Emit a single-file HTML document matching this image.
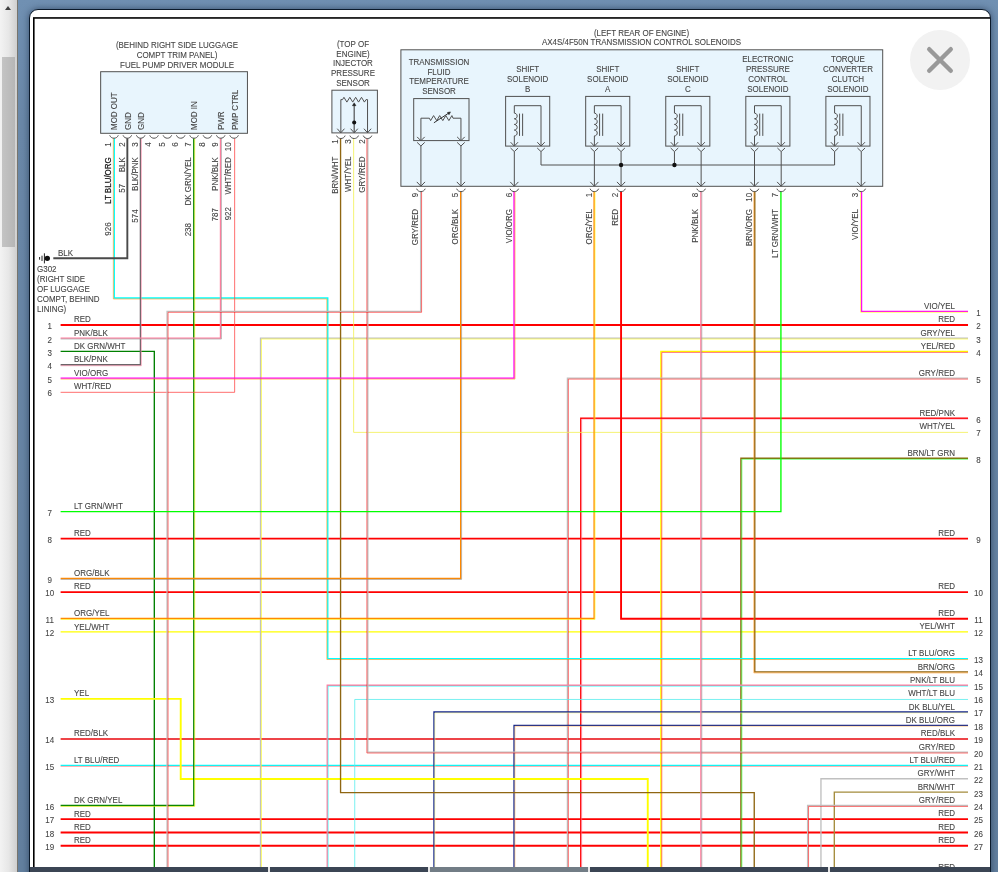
<!DOCTYPE html>
<html lang="en">
<head>
<meta charset="utf-8">
<title>Wiring Diagram</title>
<style>
html,body{margin:0;padding:0}
body{width:998px;height:872px;overflow:hidden;position:relative;
 background:linear-gradient(180deg,#7090b2 0,#6a88a8 120px,#63809f 100%);
 font-family:"Liberation Sans",Arial,sans-serif}
#sb{position:absolute;left:0;top:0;width:17px;height:872px;
 background:linear-gradient(90deg,#f3f3f3 0,#e7e7e7 50%,#cfcfcf 100%);border-right:1px solid #77756e}
#sb .up{position:absolute;left:5.1px;top:5.7px;width:0;height:0;border-left:3.5px solid transparent;border-right:3.5px solid transparent;border-bottom:4.2px solid #404040}
#sb .th{position:absolute;left:2px;top:57px;width:13px;height:190px;background:linear-gradient(90deg,#c4c4c4,#b6b6b6)}
#panel{position:absolute;left:29px;top:9px;width:960px;height:900px;background:#fff;border:1px solid #0b1a2b;border-radius:9px;
 box-shadow:0 0 7px 0 rgba(20,35,60,.6)}
#dia{position:absolute;left:0;top:0}
#close{position:absolute;left:910px;top:30px;width:60px;height:60px;border-radius:50%;background:#f2f2f2}
#bar{position:absolute;left:30px;top:867px;width:960px;height:5px;background:#e8e8e8}
#bar i{position:absolute;top:0;height:5px;background:#3b4554}
</style>
</head>
<body>
<div id="sb"><div class="up"></div><div class="th"></div></div>
<div id="panel"></div>
<svg id="dia" width="998" height="872" viewBox="0 0 998 872">
<defs><clipPath id="cp"><rect x="30" y="10" width="960" height="857"/></clipPath></defs>
<g clip-path="url(#cp)">
<rect x="33.8" y="17.95" width="1000" height="900" fill="none" stroke="#000" stroke-width="1.6"/>
<g fill="none" stroke-linecap="butt" stroke-linejoin="miter">
<path d="M60.62 325 L968.02 325" stroke="#ff0000" stroke-width="1.9"/>
<path d="M60.62 538.66 L968.02 538.66" stroke="#ff0000" stroke-width="1.9"/>
<path d="M60.62 592.08 L968.02 592.08" stroke="#ff0000" stroke-width="1.9"/>
<path d="M968.02 631.87 L60.62 631.87" stroke="#ffff00" stroke-width="1.35"/>
<path d="M968.02 738.97 L60.62 738.97" stroke="#ee4448" stroke-width="1.9"/>
<path d="M968.02 765.41 L60.62 765.41" stroke="#00ffff" stroke-width="1.35"/>
<path d="M968.02 766.36 L60.62 766.36" stroke="#ff5a5a" stroke-width="0.55"/>
<path d="M60.62 819.1 L968.02 819.1" stroke="#ff0000" stroke-width="1.9"/>
<path d="M60.62 832.45 L968.02 832.45" stroke="#ff0000" stroke-width="1.9"/>
<path d="M60.62 845.81 L968.02 845.81" stroke="#ff0000" stroke-width="1.9"/>
<path d="M60.62 872.51 L968.02 872.51" stroke="#ff0000" stroke-width="1.9"/>
<path d="M968.02 338.08 L260.51 338.08 L260.51 880" stroke="#c0c0c0" stroke-width="1.35"/>
<path d="M968.02 339.03 L261.46 339.03 L261.46 880" stroke="#ffff00" stroke-width="0.55"/>
<path d="M968.02 351.43 L660.83 351.43 L660.83 880" stroke="#ffff00" stroke-width="1.35"/>
<path d="M968.02 352.38 L661.78 352.38 L661.78 880" stroke="#ff0000" stroke-width="0.55"/>
<path d="M968.02 378.14 L567.42 378.14 L567.42 880" stroke="#c0c0c0" stroke-width="1.35"/>
<path d="M968.02 379.09 L568.37 379.09 L568.37 880" stroke="#ff0000" stroke-width="0.55"/>
<path d="M968.02 418.2 L580.76 418.2 L580.76 880" stroke="#ff0000" stroke-width="1.35"/>
<path d="M968.02 419.15 L581.71 419.15 L581.71 880" stroke="#ff7f9f" stroke-width="0.55"/>
<path d="M968.02 458.26 L740.89 458.26 L740.89 880" stroke="#8f6612" stroke-width="1.35"/>
<path d="M968.02 459.21 L741.84 459.21 L741.84 880" stroke="#00ff00" stroke-width="0.55"/>
<path d="M968.02 685.28 L327.23 685.28 L327.23 880" stroke="#ff7f9f" stroke-width="1.35"/>
<path d="M968.02 686.23 L328.18 686.23 L328.18 880" stroke="#00ffff" stroke-width="0.55"/>
<path d="M968.02 699.46 L354.74 699.46 L354.74 880" stroke="#58eeee" stroke-width="0.8"/>
<path d="M968.02 711.99 L433.98 711.99 L433.98 880" stroke="#14268a" stroke-width="1.35"/>
<path d="M968.02 712.94 L434.93 712.94 L434.93 880" stroke="#ffff8c" stroke-width="0.55"/>
<path d="M968.02 725.35 L514.04 725.35 L514.04 880" stroke="#14268a" stroke-width="1.35"/>
<path d="M968.02 726.29 L514.99 726.29 L514.99 880" stroke="#ffb860" stroke-width="0.55"/>
<path d="M968.02 778.76 L820.96 778.76 L820.96 880" stroke="#c0c0c0" stroke-width="1.35"/>
<path d="M968.02 792.12 L834.3 792.12 L834.3 880" stroke="#a48c3c" stroke-width="1.35"/>
<path d="M968.02 805.47 L807.61 805.47 L807.61 880" stroke="#c0c0c0" stroke-width="1.35"/>
<path d="M968.02 806.42 L808.56 806.42 L808.56 880" stroke="#ff0000" stroke-width="0.55"/>
<path d="M154.31 880 L154.31 351.43 L60.62 351.43" stroke="#008000" stroke-width="1.35"/>
<path d="M60.62 698.91 L180.72 698.91 L180.72 779.04 L647.76 779.04 L647.76 880" stroke="#ffff00" stroke-width="1.9"/>
<path d="M968.02 658.57 L327.78 658.57 L327.78 298.02 L114.28 298.02 L114.28 138.3" stroke="#00ffff" stroke-width="1.35"/>
<path d="M968.02 659.52 L326.83 659.52 L326.83 298.97 L113.33 298.97 L113.33 138.3" stroke="#ff8800" stroke-width="0.55"/>
<path d="M127.34 138.3 L127.34 258.23 L53.3 258.23" stroke="#4a4a4a" stroke-width="1.9"/>
<path d="M140.41 138.3 L140.41 364.79 L60.62 364.79" stroke="#6c6468" stroke-width="1.35"/>
<path d="M141.36 138.3 L141.36 365.74 L60.62 365.74" stroke="#ff7f9f" stroke-width="0.55"/>
<path d="M193.79 138.3 L193.79 805.47 L60.62 805.47" stroke="#008000" stroke-width="1.35"/>
<path d="M194.74 138.3 L194.74 806.42 L60.62 806.42" stroke="#ffff00" stroke-width="0.55"/>
<path d="M220.48 138.3 L220.48 338.08 L60.62 338.08" stroke="#ff7f9f" stroke-width="1.35"/>
<path d="M221.43 138.3 L221.43 339.03 L60.62 339.03" stroke="#8c8c8c" stroke-width="0.55"/>
<path d="M234.65 138.3 L234.65 392.32 L60.62 392.32" stroke="#ff4a4a" stroke-width="0.8"/>
<path d="M340.57 138.3 L340.57 792.66 L754.24 792.66 L754.24 880" stroke="#8f6612" stroke-width="1.35"/>
<path d="M968.02 432.38 L353.64 432.38 L353.64 138.3" stroke="#f2f050" stroke-width="0.8"/>
<path d="M968.02 752.05 L367.81 752.05 L367.81 138.3" stroke="#c0c0c0" stroke-width="1.35"/>
<path d="M968.02 753 L366.86 753 L366.86 138.3" stroke="#ff0000" stroke-width="0.55"/>
<path d="M420.64 191.3 L420.64 311.37 L167.1 311.37 L167.1 880" stroke="#c0c0c0" stroke-width="1.35"/>
<path d="M421.59 191.3 L421.59 312.32 L168.05 312.32 L168.05 880" stroke="#ff0000" stroke-width="0.55"/>
<path d="M460.67 191.3 L460.67 578.45 L60.62 578.45" stroke="#ff8800" stroke-width="1.35"/>
<path d="M461.62 191.3 L461.62 579.4 L60.62 579.4" stroke="#8c8c8c" stroke-width="0.55"/>
<path d="M514.04 191.3 L514.04 378.14 L60.62 378.14" stroke="#ff00ff" stroke-width="1.35"/>
<path d="M514.99 191.3 L514.99 379.09 L60.62 379.09" stroke="#ff8800" stroke-width="0.55"/>
<path d="M594.11 191.3 L594.11 618.51 L60.62 618.51" stroke="#ff8800" stroke-width="1.35"/>
<path d="M595.06 191.3 L595.06 619.46 L60.62 619.46" stroke="#ffff00" stroke-width="0.55"/>
<path d="M621.07 191.3 L621.07 618.79 L968.02 618.79" stroke="#ff0000" stroke-width="1.9"/>
<path d="M700.86 191.3 L700.86 880" stroke="#ff7f9f" stroke-width="1.35"/>
<path d="M701.81 191.3 L701.81 880" stroke="#8c8c8c" stroke-width="0.55"/>
<path d="M968.02 671.93 L754.79 671.93 L754.79 191.3" stroke="#8f6612" stroke-width="1.35"/>
<path d="M968.02 672.88 L753.84 672.88 L753.84 191.3" stroke="#ff8800" stroke-width="0.55"/>
<path d="M780.92 191.3 L780.92 511.68 L60.62 511.68" stroke="#00ff00" stroke-width="1.35"/>
<path d="M968.02 311.37 L861.54 311.37 L861.54 191.3" stroke="#ff00ff" stroke-width="1.35"/>
<path d="M968.02 312.32 L860.59 312.32 L860.59 191.3" stroke="#ffff00" stroke-width="0.55"/>
</g>
<g fill="none" stroke="#505050" stroke-width="1">
<rect x="100.66" y="71.7" width="146.78" height="61.6" fill="#e8f5fd"/>
<path d="M109.7 135.3 C111.2 139.2 116.8 139.2 118.3 135.3"/>
<path d="M123.04 135.3 C124.54 139.2 130.14 139.2 131.64 135.3"/>
<path d="M136.39 135.3 C137.89 139.2 143.49 139.2 144.99 135.3"/>
<path d="M149.73 135.3 C151.23 139.2 156.83 139.2 158.33 135.3"/>
<path d="M163.08 135.3 C164.58 139.2 170.18 139.2 171.68 135.3"/>
<path d="M176.42 135.3 C177.92 139.2 183.52 139.2 185.02 135.3"/>
<path d="M189.76 135.3 C191.26 139.2 196.86 139.2 198.36 135.3"/>
<path d="M203.11 135.3 C204.61 139.2 210.21 139.2 211.71 135.3"/>
<path d="M216.45 135.3 C217.95 139.2 223.55 139.2 225.05 135.3"/>
<path d="M229.8 135.3 C231.3 139.2 236.9 139.2 238.4 135.3"/>
<rect x="331.9" y="90.2" width="45.5" height="42.7" fill="#e8f5fd"/>
<path d="M336.55 135.6 C338.05 139.5 343.65 139.5 345.15 135.6"/>
<path d="M337.25 128.7 L340.85 132.8 L344.45 128.7"/>
<path d="M349.89 135.6 C351.39 139.5 356.99 139.5 358.49 135.6"/>
<path d="M350.59 128.7 L354.19 132.8 L357.79 128.7"/>
<path d="M363.24 135.6 C364.74 139.5 370.34 139.5 371.84 135.6"/>
<path d="M363.94 128.7 L367.54 132.8 L371.14 128.7"/>
<path d="M340.85 132.5 L340.85 99.6 L342.55 99.6 L343.95 97.3 L346.87 102.1 L349.8 97.3 L352.72 102.1 L355.65 97.3 L358.57 102.1 L361.5 97.3 L364.42 102.1 L366.04 99.6 L367.54 99.6 L367.54 132.5"/>
<path d="M354.19 104 V132.5" stroke-width="1.2"/>
<path d="M352.39 105.7 L354.19 102.8 L355.99 105.7 Z" fill="#222" stroke="#222" stroke-width=".5"/>
<circle cx="354.19" cy="122.5" r="2.05" fill="#111" stroke="none"/>
<rect x="400.9" y="49.8" width="481.8" height="136.5" fill="#e8f5fd"/>
<rect x="413.7" y="98.6" width="55.3" height="42"/>
<path d="M420.91 140.5 L420.91 118.2 L429.4 118.2 L430.6 120.6 L433.6 115.6 L436.7 120.6 L439.7 115.6 L442.8 120.6 L445.8 115.6 L448.9 120.6 L451.9 115.6 L453 118.2 L460.94 118.2 L460.94 140.5"/>
<path d="M433.9 122.8 L449 112.9" stroke="#333"/>
<path d="M447.4 112.5 L450.5 111.9 L449 114.8 Z" fill="#222" stroke="#222" stroke-width=".5"/>
<path d="M417.11 136.9 L420.91 140.7 L424.71 136.9"/>
<path d="M417.11 142.4 L420.91 146 L424.71 142.4"/>
<path d="M420.91 146 V186"/>
<path d="M416.81 181.9 L420.91 186.2 L425.01 181.9"/>
<path d="M457.14 136.9 L460.94 140.7 L464.74 136.9"/>
<path d="M457.14 142.4 L460.94 146 L464.74 142.4"/>
<path d="M460.94 146 V186"/>
<path d="M456.84 181.9 L460.94 186.2 L465.04 181.9"/>
<rect x="505.62" y="96.4" width="44.09" height="49.7"/>
<path d="M514.32 145.8 V135.9 C518.12 135.9 518.12 130.25 514.32 130.05 C518.12 130.25 518.12 124.6 514.32 124.4 C518.12 124.6 518.12 118.95 514.32 118.75 C518.12 118.95 518.12 113.3 514.32 113.1 V105.7 H541.01 V145.8"/>
<path d="M519.52 113.6 V135.9 M522.62 113.6 V135.9"/>
<path d="M510.62 142.2 L514.32 146.1 L518.02 142.2"/>
<path d="M510.52 148 L514.32 151.6 L518.12 148"/>
<path d="M537.31 142.2 L541.01 146.1 L544.71 142.2"/>
<path d="M537.21 148 L541.01 151.6 L544.81 148"/>
<rect x="585.68" y="96.4" width="44.09" height="49.7"/>
<path d="M594.38 145.8 V135.9 C598.18 135.9 598.18 130.25 594.38 130.05 C598.18 130.25 598.18 124.6 594.38 124.4 C598.18 124.6 598.18 118.95 594.38 118.75 C598.18 118.95 598.18 113.3 594.38 113.1 V105.7 H621.07 V145.8"/>
<path d="M599.58 113.6 V135.9 M602.68 113.6 V135.9"/>
<path d="M590.68 142.2 L594.38 146.1 L598.08 142.2"/>
<path d="M590.58 148 L594.38 151.6 L598.18 148"/>
<path d="M617.37 142.2 L621.07 146.1 L624.77 142.2"/>
<path d="M617.27 148 L621.07 151.6 L624.87 148"/>
<rect x="665.75" y="96.4" width="44.09" height="49.7"/>
<path d="M674.45 145.8 V135.9 C678.25 135.9 678.25 130.25 674.45 130.05 C678.25 130.25 678.25 124.6 674.45 124.4 C678.25 124.6 678.25 118.95 674.45 118.75 C678.25 118.95 678.25 113.3 674.45 113.1 V105.7 H701.14 V145.8"/>
<path d="M679.65 113.6 V135.9 M682.75 113.6 V135.9"/>
<path d="M670.75 142.2 L674.45 146.1 L678.15 142.2"/>
<path d="M670.65 148 L674.45 151.6 L678.25 148"/>
<path d="M697.44 142.2 L701.14 146.1 L704.84 142.2"/>
<path d="M697.34 148 L701.14 151.6 L704.94 148"/>
<rect x="745.81" y="96.4" width="44.09" height="49.7"/>
<path d="M754.51 145.8 V135.9 C758.31 135.9 758.31 130.25 754.51 130.05 C758.31 130.25 758.31 124.6 754.51 124.4 C758.31 124.6 758.31 118.95 754.51 118.75 C758.31 118.95 758.31 113.3 754.51 113.1 V105.7 H781.2 V145.8"/>
<path d="M759.71 113.6 V135.9 M762.81 113.6 V135.9"/>
<path d="M750.81 142.2 L754.51 146.1 L758.21 142.2"/>
<path d="M750.71 148 L754.51 151.6 L758.31 148"/>
<path d="M777.5 142.2 L781.2 146.1 L784.9 142.2"/>
<path d="M777.4 148 L781.2 151.6 L785 148"/>
<rect x="825.88" y="96.4" width="44.09" height="49.7"/>
<path d="M834.58 145.8 V135.9 C838.38 135.9 838.38 130.25 834.58 130.05 C838.38 130.25 838.38 124.6 834.58 124.4 C838.38 124.6 838.38 118.95 834.58 118.75 C838.38 118.95 838.38 113.3 834.58 113.1 V105.7 H861.26 V145.8"/>
<path d="M839.78 113.6 V135.9 M842.88 113.6 V135.9"/>
<path d="M830.88 142.2 L834.58 146.1 L838.28 142.2"/>
<path d="M830.78 148 L834.58 151.6 L838.38 148"/>
<path d="M857.56 142.2 L861.26 146.1 L864.96 142.2"/>
<path d="M857.46 148 L861.26 151.6 L865.06 148"/>
<path d="M514.32 151.7 V186"/>
<path d="M510.22 181.9 L514.32 186.2 L518.42 181.9"/>
<path d="M594.38 151.7 V186"/>
<path d="M590.28 181.9 L594.38 186.2 L598.48 181.9"/>
<path d="M621.07 151.7 V186"/>
<path d="M616.97 181.9 L621.07 186.2 L625.17 181.9"/>
<path d="M701.14 151.7 V186"/>
<path d="M697.04 181.9 L701.14 186.2 L705.24 181.9"/>
<path d="M754.51 151.7 V186"/>
<path d="M750.41 181.9 L754.51 186.2 L758.61 181.9"/>
<path d="M781.2 151.7 V186"/>
<path d="M777.1 181.9 L781.2 186.2 L785.3 181.9"/>
<path d="M861.26 151.7 V186"/>
<path d="M857.16 181.9 L861.26 186.2 L865.36 181.9"/>
<path d="M541.01 151.7 V165 H834.58 V151.7"/>
<path d="M674.45 151.7 V165"/>
<circle cx="621.07" cy="165" r="2.2" fill="#111" stroke="none"/>
<circle cx="674.45" cy="165" r="2.2" fill="#111" stroke="none"/>
<path d="M416.61 188.7 C418.11 192.6 423.71 192.6 425.21 188.7"/>
<path d="M456.64 188.7 C458.14 192.6 463.74 192.6 465.24 188.7"/>
<path d="M510.02 188.7 C511.52 192.6 517.12 192.6 518.62 188.7"/>
<path d="M590.08 188.7 C591.58 192.6 597.18 192.6 598.68 188.7"/>
<path d="M616.77 188.7 C618.27 192.6 623.87 192.6 625.37 188.7"/>
<path d="M696.84 188.7 C698.34 192.6 703.94 192.6 705.44 188.7"/>
<path d="M750.21 188.7 C751.71 192.6 757.31 192.6 758.81 188.7"/>
<path d="M776.9 188.7 C778.4 192.6 784 192.6 785.5 188.7"/>
<path d="M856.96 188.7 C858.46 192.6 864.06 192.6 865.56 188.7"/>
<path d="M44.4 253.3 V263.4 M42 255.7 V261 M39.6 257 V259.7" stroke="#222"/>
<circle cx="47.3" cy="258.33" r="2.7" fill="#111" stroke="none"/>
</g>
<g font-family="'Liberation Sans', Arial, sans-serif" font-size="8" fill="#444444" stroke="#444444" stroke-width=".08">
<text transform="translate(177 48) scale(1 1.13)" text-anchor="middle">(BEHIND RIGHT SIDE LUGGAGE</text>
<text transform="translate(177 58) scale(1 1.13)" text-anchor="middle">COMPT TRIM PANEL)</text>
<text transform="translate(177 68) scale(1 1.13)" text-anchor="middle">FUEL PUMP DRIVER MODULE</text>
<text transform="translate(353 47.2) scale(1 1.13)" text-anchor="middle">(TOP OF</text>
<text transform="translate(353 56.8) scale(1 1.13)" text-anchor="middle">ENGINE)</text>
<text transform="translate(353 66.4) scale(1 1.13)" text-anchor="middle">INJECTOR</text>
<text transform="translate(353 76) scale(1 1.13)" text-anchor="middle">PRESSURE</text>
<text transform="translate(353 85.6) scale(1 1.13)" text-anchor="middle">SENSOR</text>
<text transform="translate(641.5 35.8) scale(1 1.13)" text-anchor="middle">(LEFT REAR OF ENGINE)</text>
<text transform="translate(641.5 45) scale(1 1.13)" text-anchor="middle">AX4S/4F50N TRANSMISSION CONTROL SOLENOIDS</text>
<text transform="translate(439 65.2) scale(1 1.13)" text-anchor="middle">TRANSMISSION</text>
<text transform="translate(439 74.8) scale(1 1.13)" text-anchor="middle">FLUID</text>
<text transform="translate(439 84.4) scale(1 1.13)" text-anchor="middle">TEMPERATURE</text>
<text transform="translate(439 94) scale(1 1.13)" text-anchor="middle">SENSOR</text>
<text transform="translate(527.66 72.4) scale(1 1.13)" text-anchor="middle">SHIFT</text>
<text transform="translate(527.66 82.4) scale(1 1.13)" text-anchor="middle">SOLENOID</text>
<text transform="translate(527.66 92.4) scale(1 1.13)" text-anchor="middle">B</text>
<text transform="translate(607.73 72.4) scale(1 1.13)" text-anchor="middle">SHIFT</text>
<text transform="translate(607.73 82.4) scale(1 1.13)" text-anchor="middle">SOLENOID</text>
<text transform="translate(607.73 92.4) scale(1 1.13)" text-anchor="middle">A</text>
<text transform="translate(687.79 72.4) scale(1 1.13)" text-anchor="middle">SHIFT</text>
<text transform="translate(687.79 82.4) scale(1 1.13)" text-anchor="middle">SOLENOID</text>
<text transform="translate(687.79 92.4) scale(1 1.13)" text-anchor="middle">C</text>
<text transform="translate(767.86 62.4) scale(1 1.13)" text-anchor="middle">ELECTRONIC</text>
<text transform="translate(767.86 72.4) scale(1 1.13)" text-anchor="middle">PRESSURE</text>
<text transform="translate(767.86 82.4) scale(1 1.13)" text-anchor="middle">CONTROL</text>
<text transform="translate(767.86 92.4) scale(1 1.13)" text-anchor="middle">SOLENOID</text>
<text transform="translate(847.92 62.4) scale(1 1.13)" text-anchor="middle">TORQUE</text>
<text transform="translate(847.92 72.4) scale(1 1.13)" text-anchor="middle">CONVERTER</text>
<text transform="translate(847.92 82.4) scale(1 1.13)" text-anchor="middle">CLUTCH</text>
<text transform="translate(847.92 92.4) scale(1 1.13)" text-anchor="middle">SOLENOID</text>
<text transform="translate(117.4 130) rotate(-90) scale(1 1.13)">MOD OUT</text>
<text transform="translate(130.74 130) rotate(-90) scale(1 1.13)">GND</text>
<text transform="translate(144.09 130) rotate(-90) scale(1 1.13)">GND</text>
<text transform="translate(197.46 130) rotate(-90) scale(1 1.13)">MOD IN</text>
<text transform="translate(224.15 130) rotate(-90) scale(1 1.13)">PWR</text>
<text transform="translate(237.5 130) rotate(-90) scale(1 1.13)">PMP CTRL</text>
<text transform="translate(111.2 142.3) rotate(-90) scale(1 1.13)" text-anchor="end">1</text>
<text transform="translate(124.54 142.3) rotate(-90) scale(1 1.13)" text-anchor="end">2</text>
<text transform="translate(137.89 142.3) rotate(-90) scale(1 1.13)" text-anchor="end">3</text>
<text transform="translate(151.23 142.3) rotate(-90) scale(1 1.13)" text-anchor="end">4</text>
<text transform="translate(164.58 142.3) rotate(-90) scale(1 1.13)" text-anchor="end">5</text>
<text transform="translate(177.92 142.3) rotate(-90) scale(1 1.13)" text-anchor="end">6</text>
<text transform="translate(191.26 142.3) rotate(-90) scale(1 1.13)" text-anchor="end">7</text>
<text transform="translate(204.61 142.3) rotate(-90) scale(1 1.13)" text-anchor="end">8</text>
<text transform="translate(217.95 142.3) rotate(-90) scale(1 1.13)" text-anchor="end">9</text>
<text transform="translate(231.3 142.3) rotate(-90) scale(1 1.13)" text-anchor="end">10</text>
<g fill="#181818" stroke="#181818" stroke-width=".2">
<text transform="translate(111.2 157.2) rotate(-90) scale(1 1.13)" text-anchor="end">LT BLU/ORG</text>
</g>
<text transform="translate(111.2 222.4) rotate(-90) scale(1 1.13)" text-anchor="end">926</text>
<text transform="translate(124.54 157.2) rotate(-90) scale(1 1.13)" text-anchor="end">BLK</text>
<text transform="translate(124.54 183.8) rotate(-90) scale(1 1.13)" text-anchor="end">57</text>
<text transform="translate(137.89 157.2) rotate(-90) scale(1 1.13)" text-anchor="end">BLK/PNK</text>
<text transform="translate(137.89 209.3) rotate(-90) scale(1 1.13)" text-anchor="end">574</text>
<text transform="translate(191.26 157.2) rotate(-90) scale(1 1.13)" text-anchor="end">DK GRN/YEL</text>
<text transform="translate(191.26 223) rotate(-90) scale(1 1.13)" text-anchor="end">238</text>
<text transform="translate(217.95 157.2) rotate(-90) scale(1 1.13)" text-anchor="end">PNK/BLK</text>
<text transform="translate(217.95 208) rotate(-90) scale(1 1.13)" text-anchor="end">787</text>
<text transform="translate(231.3 157.2) rotate(-90) scale(1 1.13)" text-anchor="end">WHT/RED</text>
<text transform="translate(231.3 207) rotate(-90) scale(1 1.13)" text-anchor="end">922</text>
<text transform="translate(338.05 139.3) rotate(-90) scale(1 1.13)" text-anchor="end">1</text>
<text transform="translate(338.05 156.5) rotate(-90) scale(1 1.13)" text-anchor="end">BRN/WHT</text>
<text transform="translate(351.39 139.3) rotate(-90) scale(1 1.13)" text-anchor="end">3</text>
<text transform="translate(351.39 156.5) rotate(-90) scale(1 1.13)" text-anchor="end">WHT/YEL</text>
<text transform="translate(364.74 139.3) rotate(-90) scale(1 1.13)" text-anchor="end">2</text>
<text transform="translate(364.74 156.5) rotate(-90) scale(1 1.13)" text-anchor="end">GRY/RED</text>
<text transform="translate(418.11 192.8) rotate(-90) scale(1 1.13)" text-anchor="end">9</text>
<text transform="translate(418.11 209) rotate(-90) scale(1 1.13)" text-anchor="end">GRY/RED</text>
<text transform="translate(458.14 192.8) rotate(-90) scale(1 1.13)" text-anchor="end">5</text>
<text transform="translate(458.14 209) rotate(-90) scale(1 1.13)" text-anchor="end">ORG/BLK</text>
<text transform="translate(511.52 192.8) rotate(-90) scale(1 1.13)" text-anchor="end">6</text>
<text transform="translate(511.52 209) rotate(-90) scale(1 1.13)" text-anchor="end">VIO/ORG</text>
<text transform="translate(591.58 192.8) rotate(-90) scale(1 1.13)" text-anchor="end">1</text>
<text transform="translate(591.58 209) rotate(-90) scale(1 1.13)" text-anchor="end">ORG/YEL</text>
<text transform="translate(618.27 192.8) rotate(-90) scale(1 1.13)" text-anchor="end">2</text>
<text transform="translate(618.27 209) rotate(-90) scale(1 1.13)" text-anchor="end">RED</text>
<text transform="translate(698.34 192.8) rotate(-90) scale(1 1.13)" text-anchor="end">8</text>
<text transform="translate(698.34 209) rotate(-90) scale(1 1.13)" text-anchor="end">PNK/BLK</text>
<text transform="translate(751.71 192.8) rotate(-90) scale(1 1.13)" text-anchor="end">10</text>
<text transform="translate(751.71 209) rotate(-90) scale(1 1.13)" text-anchor="end">BRN/ORG</text>
<text transform="translate(778.4 192.8) rotate(-90) scale(1 1.13)" text-anchor="end">7</text>
<text transform="translate(778.4 209) rotate(-90) scale(1 1.13)" text-anchor="end">LT GRN/WHT</text>
<text transform="translate(858.46 192.8) rotate(-90) scale(1 1.13)" text-anchor="end">3</text>
<text transform="translate(858.46 209) rotate(-90) scale(1 1.13)" text-anchor="end">VIO/YEL</text>
<text transform="translate(58 255.6) scale(1 1.13)">BLK</text>
<text transform="translate(37 271.7) scale(1 1.13)">G302</text>
<text transform="translate(37 281.7) scale(1 1.13)">(RIGHT SIDE</text>
<text transform="translate(37 291.7) scale(1 1.13)">OF LUGGAGE</text>
<text transform="translate(37 301.7) scale(1 1.13)">COMPT, BEHIND</text>
<text transform="translate(37 311.7) scale(1 1.13)">LINING)</text>
<text transform="translate(74 322.4) scale(1 1.13)">RED</text>
<text transform="translate(49.7 329.2) scale(1 1.13)" text-anchor="middle">1</text>
<text transform="translate(74 335.75) scale(1 1.13)">PNK/BLK</text>
<text transform="translate(49.7 342.55) scale(1 1.13)" text-anchor="middle">2</text>
<text transform="translate(74 349.11) scale(1 1.13)">DK GRN/WHT</text>
<text transform="translate(49.7 355.91) scale(1 1.13)" text-anchor="middle">3</text>
<text transform="translate(74 362.46) scale(1 1.13)">BLK/PNK</text>
<text transform="translate(49.7 369.26) scale(1 1.13)" text-anchor="middle">4</text>
<text transform="translate(74 375.82) scale(1 1.13)">VIO/ORG</text>
<text transform="translate(49.7 382.62) scale(1 1.13)" text-anchor="middle">5</text>
<text transform="translate(74 389.17) scale(1 1.13)">WHT/RED</text>
<text transform="translate(49.7 395.97) scale(1 1.13)" text-anchor="middle">6</text>
<text transform="translate(74 509.36) scale(1 1.13)">LT GRN/WHT</text>
<text transform="translate(49.7 516.16) scale(1 1.13)" text-anchor="middle">7</text>
<text transform="translate(74 536.06) scale(1 1.13)">RED</text>
<text transform="translate(49.7 542.86) scale(1 1.13)" text-anchor="middle">8</text>
<text transform="translate(74 576.13) scale(1 1.13)">ORG/BLK</text>
<text transform="translate(49.7 582.93) scale(1 1.13)" text-anchor="middle">9</text>
<text transform="translate(74 589.48) scale(1 1.13)">RED</text>
<text transform="translate(49.7 596.28) scale(1 1.13)" text-anchor="middle">10</text>
<text transform="translate(74 616.19) scale(1 1.13)">ORG/YEL</text>
<text transform="translate(49.7 622.99) scale(1 1.13)" text-anchor="middle">11</text>
<text transform="translate(74 629.54) scale(1 1.13)">YEL/WHT</text>
<text transform="translate(49.7 636.34) scale(1 1.13)" text-anchor="middle">12</text>
<text transform="translate(74 696.31) scale(1 1.13)">YEL</text>
<text transform="translate(49.7 703.11) scale(1 1.13)" text-anchor="middle">13</text>
<text transform="translate(74 736.37) scale(1 1.13)">RED/BLK</text>
<text transform="translate(49.7 743.17) scale(1 1.13)" text-anchor="middle">14</text>
<text transform="translate(74 763.08) scale(1 1.13)">LT BLU/RED</text>
<text transform="translate(49.7 769.88) scale(1 1.13)" text-anchor="middle">15</text>
<text transform="translate(74 803.14) scale(1 1.13)">DK GRN/YEL</text>
<text transform="translate(49.7 809.94) scale(1 1.13)" text-anchor="middle">16</text>
<text transform="translate(74 816.5) scale(1 1.13)">RED</text>
<text transform="translate(49.7 823.3) scale(1 1.13)" text-anchor="middle">17</text>
<text transform="translate(74 829.85) scale(1 1.13)">RED</text>
<text transform="translate(49.7 836.65) scale(1 1.13)" text-anchor="middle">18</text>
<text transform="translate(74 843.21) scale(1 1.13)">RED</text>
<text transform="translate(49.7 850.01) scale(1 1.13)" text-anchor="middle">19</text>
<text transform="translate(955 308.95) scale(1 1.13)" text-anchor="end">VIO/YEL</text>
<text transform="translate(978.5 315.85) scale(1 1.13)" text-anchor="middle">1</text>
<text transform="translate(955 322.3) scale(1 1.13)" text-anchor="end">RED</text>
<text transform="translate(978.5 329.2) scale(1 1.13)" text-anchor="middle">2</text>
<text transform="translate(955 335.65) scale(1 1.13)" text-anchor="end">GRY/YEL</text>
<text transform="translate(978.5 342.55) scale(1 1.13)" text-anchor="middle">3</text>
<text transform="translate(955 349.01) scale(1 1.13)" text-anchor="end">YEL/RED</text>
<text transform="translate(978.5 355.91) scale(1 1.13)" text-anchor="middle">4</text>
<text transform="translate(955 375.72) scale(1 1.13)" text-anchor="end">GRY/RED</text>
<text transform="translate(978.5 382.62) scale(1 1.13)" text-anchor="middle">5</text>
<text transform="translate(955 415.78) scale(1 1.13)" text-anchor="end">RED/PNK</text>
<text transform="translate(978.5 422.68) scale(1 1.13)" text-anchor="middle">6</text>
<text transform="translate(955 429.13) scale(1 1.13)" text-anchor="end">WHT/YEL</text>
<text transform="translate(978.5 436.03) scale(1 1.13)" text-anchor="middle">7</text>
<text transform="translate(955 455.84) scale(1 1.13)" text-anchor="end">BRN/LT GRN</text>
<text transform="translate(978.5 462.74) scale(1 1.13)" text-anchor="middle">8</text>
<text transform="translate(955 535.96) scale(1 1.13)" text-anchor="end">RED</text>
<text transform="translate(978.5 542.86) scale(1 1.13)" text-anchor="middle">9</text>
<text transform="translate(955 589.38) scale(1 1.13)" text-anchor="end">RED</text>
<text transform="translate(978.5 596.28) scale(1 1.13)" text-anchor="middle">10</text>
<text transform="translate(955 616.09) scale(1 1.13)" text-anchor="end">RED</text>
<text transform="translate(978.5 622.99) scale(1 1.13)" text-anchor="middle">11</text>
<text transform="translate(955 629.44) scale(1 1.13)" text-anchor="end">YEL/WHT</text>
<text transform="translate(978.5 636.34) scale(1 1.13)" text-anchor="middle">12</text>
<text transform="translate(955 656.15) scale(1 1.13)" text-anchor="end">LT BLU/ORG</text>
<text transform="translate(978.5 663.05) scale(1 1.13)" text-anchor="middle">13</text>
<text transform="translate(955 669.5) scale(1 1.13)" text-anchor="end">BRN/ORG</text>
<text transform="translate(978.5 676.4) scale(1 1.13)" text-anchor="middle">14</text>
<text transform="translate(955 682.86) scale(1 1.13)" text-anchor="end">PNK/LT BLU</text>
<text transform="translate(978.5 689.76) scale(1 1.13)" text-anchor="middle">15</text>
<text transform="translate(955 696.21) scale(1 1.13)" text-anchor="end">WHT/LT BLU</text>
<text transform="translate(978.5 703.11) scale(1 1.13)" text-anchor="middle">16</text>
<text transform="translate(955 709.57) scale(1 1.13)" text-anchor="end">DK BLU/YEL</text>
<text transform="translate(978.5 716.47) scale(1 1.13)" text-anchor="middle">17</text>
<text transform="translate(955 722.92) scale(1 1.13)" text-anchor="end">DK BLU/ORG</text>
<text transform="translate(978.5 729.82) scale(1 1.13)" text-anchor="middle">18</text>
<text transform="translate(955 736.27) scale(1 1.13)" text-anchor="end">RED/BLK</text>
<text transform="translate(978.5 743.17) scale(1 1.13)" text-anchor="middle">19</text>
<text transform="translate(955 749.63) scale(1 1.13)" text-anchor="end">GRY/RED</text>
<text transform="translate(978.5 756.53) scale(1 1.13)" text-anchor="middle">20</text>
<text transform="translate(955 762.98) scale(1 1.13)" text-anchor="end">LT BLU/RED</text>
<text transform="translate(978.5 769.88) scale(1 1.13)" text-anchor="middle">21</text>
<text transform="translate(955 776.34) scale(1 1.13)" text-anchor="end">GRY/WHT</text>
<text transform="translate(978.5 783.24) scale(1 1.13)" text-anchor="middle">22</text>
<text transform="translate(955 789.69) scale(1 1.13)" text-anchor="end">BRN/WHT</text>
<text transform="translate(978.5 796.59) scale(1 1.13)" text-anchor="middle">23</text>
<text transform="translate(955 803.04) scale(1 1.13)" text-anchor="end">GRY/RED</text>
<text transform="translate(978.5 809.94) scale(1 1.13)" text-anchor="middle">24</text>
<text transform="translate(955 816.4) scale(1 1.13)" text-anchor="end">RED</text>
<text transform="translate(978.5 823.3) scale(1 1.13)" text-anchor="middle">25</text>
<text transform="translate(955 829.75) scale(1 1.13)" text-anchor="end">RED</text>
<text transform="translate(978.5 836.65) scale(1 1.13)" text-anchor="middle">26</text>
<text transform="translate(955 843.11) scale(1 1.13)" text-anchor="end">RED</text>
<text transform="translate(978.5 850.01) scale(1 1.13)" text-anchor="middle">27</text>
<text transform="translate(955 869.81) scale(1 1.13)" text-anchor="end">RED</text>
<text transform="translate(978.5 876.71) scale(1 1.13)" text-anchor="middle">28</text>
</g>
</g>
</svg>
<div id="close"><svg width="60" height="60" viewBox="0 0 60 60"><path d="M19.2 19.2 L40.8 40.8 M40.8 19.2 L19.2 40.8" stroke="#999" stroke-width="4.4" stroke-linecap="round" fill="none"/></svg></div>
<div id="bar"><i style="left:0;width:238px"></i><i style="left:240px;width:158px"></i><i style="left:400px;width:158px;background:#727d86"></i><i style="left:560px;width:238px"></i><i style="left:800px;width:160px"></i></div>
</body>
</html>
